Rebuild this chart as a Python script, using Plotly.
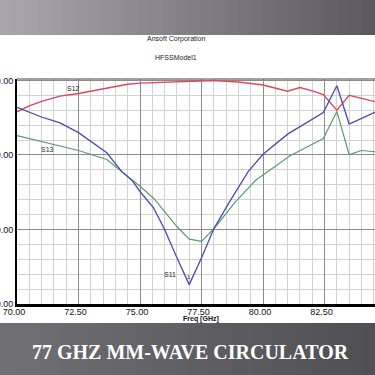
import plotly.graph_objects as go

# ---- data ----
freq_s11 = [70.0, 71.0, 71.75, 72.5, 73.65, 74.25, 74.7, 75.0, 75.55, 76.0, 76.5, 77.0,
            77.5, 78.0, 78.6, 79.4, 80.0, 81.0, 82.45, 83.0, 83.5, 85.0]
s11 = [-3.6, -4.9, -5.7, -7.0, -9.7, -12.2, -13.5, -14.9, -17.1, -20.0, -23.8, -27.4,
       -23.8, -19.9, -16.5, -12.2, -9.9, -7.2, -4.3, -0.7, -5.85, -3.6]

freq_s12 = [70.0, 70.5, 71.0, 71.75, 72.5, 73.5, 74.5, 75.0, 76.0, 77.0, 78.0, 79.0,
            80.0, 81.0, 81.5, 82.0, 82.45, 83.0, 83.5, 85.0]
s12 = [-4.2, -3.4, -2.8, -2.1, -1.75, -1.1, -0.5, -0.35, -0.2, -0.05, 0.0, -0.2,
       -0.6, -1.45, -0.95, -1.4, -1.9, -4.0, -2.0, -3.2]

freq_s13 = [70.0, 71.0, 72.5, 73.65, 74.25, 74.7, 75.0, 75.55, 76.5, 77.0, 77.5, 78.0,
            78.85, 79.7, 80.15, 81.1, 82.45, 83.0, 83.5, 84.0, 85.0]
s13 = [-7.4, -8.2, -9.4, -10.6, -12.2, -13.4, -14.2, -15.8, -19.6, -21.3, -21.6, -19.9,
       -16.4, -13.4, -12.3, -10.1, -7.8, -4.15, -9.95, -9.4, -9.7]

x_ticks = [70.0, 72.5, 75.0, 77.5, 80.0, 82.5, 85.0]
y_ticks = [0, -10, -20, -30]

# ---- geometry helpers (pixel -> paper) ----
W = H = 375
L, R, T, B = 17, 0, 79, 71
PW, PH = W - L - R, H - T - B
def px(x):
    return (x - L) / PW
def py(y):
    return (H - B - y) / PH

fig = go.Figure()
fig.add_trace(go.Scatter(x=freq_s12, y=s12, mode="lines", name="S12",
                         line=dict(color="#e0475a", width=1.4)))
fig.add_trace(go.Scatter(x=freq_s13, y=s13, mode="lines", name="S13",
                         line=dict(color="#5a9a72", width=1.2)))
fig.add_trace(go.Scatter(x=freq_s11, y=s11, mode="lines", name="S11",
                         line=dict(color="#4b4bab", width=1.3)))

shapes = []
def lerp(c1, c2, t):
    return "#%02x%02x%02x" % tuple(int(round(a + (b - a) * t)) for a, b in zip(c1, c2))
N = 30
top_l, top_r = (168, 166, 172), (92, 90, 96)
bot_l, bot_r = (112, 111, 116), (80, 79, 84)
for i in range(N):
    x0 = W * i / N
    x1 = W * (i + 1) / N + 0.5
    t = i / (N - 1)
    shapes.append(dict(type="rect", xref="paper", yref="paper", layer="below",
                       x0=px(x0), x1=px(x1), y0=py(35), y1=py(0),
                       fillcolor=lerp(top_l, top_r, t), line=dict(width=0)))
    shapes.append(dict(type="rect", xref="paper", yref="paper", layer="below",
                       x0=px(x0), x1=px(x1), y0=py(375), y1=py(323),
                       fillcolor=lerp(bot_l, bot_r, t), line=dict(width=0)))
shapes.append(dict(type="rect", xref="paper", yref="paper", layer="below",
                   x0=px(0), x1=px(375), y0=py(323), y1=py(35),
                   fillcolor="white", line=dict(width=0)))
shapes.append(dict(type="line", xref="paper", yref="paper", layer="above",
                   x0=0, x1=1, y0=1, y1=1, line=dict(color="#444444", width=1)))

def ann(text, x, y, size, xref="paper", yref="paper", color="#222", family="Liberation Sans"):
    return dict(text=text, x=x, y=y, xref=xref, yref=yref, showarrow=False,
                xanchor="center", yanchor="middle",
                font=dict(family=family, size=size, color=color))

annotations = [
    ann("Ansoft Corporation", px(176), py(39), 7),
    ann("HFSSModel1", px(176), py(57), 7),
    ann("<b>Freq [GHz]</b>", px(201), py(319), 7, color="#111"),
    ann("S12", 72.28, -1.07, 7, "x", "y"),
    ann("S13", 71.22, -9.24, 7, "x", "y"),
    ann("S11", 76.22, -26.1, 7, "x", "y"),
    ann("1", 77.0, -26.4, 6, "x", "y"),
    ann("<b>77 GHZ MM-WAVE CIRCULATOR</b>", px(190), py(352), 20,
        color="white", family="Liberation Serif"),
]

fig.update_layout(
    width=W, height=H,
    margin=dict(l=L, r=R, t=T, b=B, pad=0),
    paper_bgcolor="#6a696e",
    plot_bgcolor="white",
    showlegend=False,
    shapes=shapes,
    annotations=annotations,
    xaxis=dict(range=[70, 84.55], tickvals=x_ticks, tickformat=".2f",
               showgrid=True, gridcolor="#8c8c8c", gridwidth=1,
               minor=dict(dtick=0.5, tick0=70, showgrid=True, gridcolor="#d2d2d2", gridwidth=1),
               showline=True, linecolor="black", linewidth=2.5,
               ticks="", zeroline=False, automargin=False,
               ticklabelstandoff=-3, ticklabelshift=-3,
               tickfont=dict(family="Liberation Sans", size=9, color="#111")),
    yaxis=dict(range=[-30, 0.2], tickvals=y_ticks, tickformat=".2f",
               showgrid=True, gridcolor="#8c8c8c", gridwidth=1,
               minor=dict(dtick=2, tick0=0, showgrid=True, gridcolor="#d2d2d2", gridwidth=1),
               showline=True, linecolor="black", linewidth=2,
               ticks="", zeroline=False, automargin=False,
               tickfont=dict(family="Liberation Sans", size=9, color="#111")),
)

fig.write_html("out.html", config={"displayModeBar": False},
               post_script="document.body.style.margin='0';document.body.style.overflow='hidden';")
